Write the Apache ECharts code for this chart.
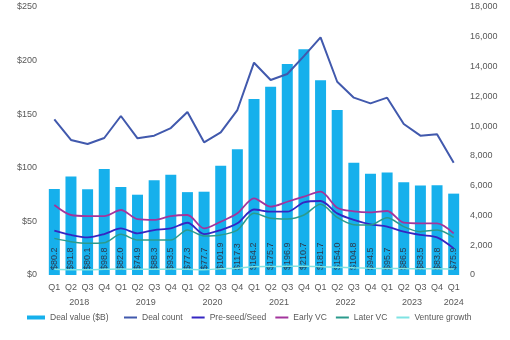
<!DOCTYPE html>
<html>
<head>
<meta charset="utf-8">
<script src="https://cdn.jsdelivr.net/npm/echarts@6/dist/echarts.min.js"></script>
<style>
html,body{margin:0;padding:0;background:#fff;}
#chart{width:510px;height:340px;}
</style>
</head>
<body>
<div id="chart"></div>
<script>
const quarters = ['Q1','Q2','Q3','Q4','Q1','Q2','Q3','Q4','Q1','Q2','Q3','Q4','Q1','Q2','Q3','Q4','Q1','Q2','Q3','Q4','Q1','Q2','Q3','Q4','Q1'];
const quarterYears = ['2018','2018','2018','2018','2019','2019','2019','2019','2020','2020','2020','2020','2021','2021','2021','2021','2022','2022','2022','2022','2023','2023','2023','2023','2024'];
const dealValue = [80.2,91.8,80.1,98.8,82.0,74.9,88.3,93.5,77.3,77.7,101.9,117.3,164.2,175.7,196.9,210.7,181.7,154.0,104.8,94.5,95.7,86.5,83.5,83.8,75.9];
const dealCount = [10450,9070,8800,9200,10680,9180,9360,9870,10950,8910,9580,11080,14260,13100,13500,14700,15960,12980,11910,11530,11910,10140,9360,9450,7540];
const preSeed = [2980,2690,2530,2750,3130,2800,3020,3130,3510,2750,3020,3470,4400,4250,4250,4880,4970,4140,3700,3400,3250,2910,2690,2530,1790];
const earlyVC = [4700,4030,3960,3960,4365,3750,3700,3960,4030,3130,3580,4140,5150,4590,4920,5260,5600,4520,4280,4210,4300,3515,3470,3470,2800];
const laterVC = [2460,2240,2130,2170,2730,2350,2350,2350,3020,2620,2690,3020,4140,3810,3760,4030,4750,3870,3380,3360,3850,3250,2910,3020,2530];
const ventureGrowth = [380,360,360,380,400,380,380,400,380,360,420,460,560,570,580,590,560,520,480,450,440,430,420,420,400];
const lineNames = ['Deal count', 'Pre-seed/Seed', 'Early VC', 'Later VC', 'Venture growth'];

// year label positions: centre of each year's quarters
const yearNames = [];
const yearPos = [];
quarterYears.forEach((y, i) => {
  let k = yearNames.indexOf(y);
  if (k < 0) { yearNames.push(y); yearPos.push([]); k = yearNames.length - 1; }
  yearPos[k].push(i);
});
const yearCentres = yearPos.map(a => (a[0] + a[a.length - 1]) / 2);

const txt = '#595959';
const font = 'Liberation Sans, Arial, sans-serif';
const chart = echarts.init(document.getElementById('chart'));
chart.setOption({
  animation: false,
  textStyle: { fontFamily: font },
  grid: { left: 46, right: 48, top: 7, bottom: 65, containLabel: false },
  legend: [
    {
      top: 313, left: 27, padding: 0, itemWidth: 18, itemHeight: 4, icon: 'rect',
      textStyle: { color: txt, fontSize: 8.5, fontFamily: font },
      data: ['Deal value ($B)']
    },
    {
      top: 313, left: 124, padding: 0, width: 390, itemGap: 9, itemWidth: 13, itemHeight: 2, icon: 'rect',
      textStyle: { color: txt, fontSize: 8.5, fontFamily: font },
      data: lineNames
    }
  ],
  xAxis: [
    {
      type: 'category', data: quarters,
      axisLine: { show: false }, axisTick: { show: false },
      axisLabel: { color: txt, fontSize: 9, margin: 8, interval: 0, fontFamily: font }
    },
    {
      type: 'value', min: -0.5, max: 24.5, position: 'bottom',
      axisLine: { show: false }, axisTick: { show: false }, splitLine: { show: false },
      axisLabel: {
        color: txt, fontSize: 9, margin: 23, fontFamily: font,
        customValues: yearCentres,
        formatter: v => { const k = yearCentres.indexOf(v); return k >= 0 ? yearNames[k] : ''; }
      }
    }
  ],
  yAxis: [
    {
      type: 'value', min: 0, max: 250, interval: 50,
      axisLine: { show: false }, axisTick: { show: false }, splitLine: { show: false },
      axisLabel: { color: txt, fontSize: 9, margin: 9, fontFamily: font, formatter: v => '$' + v }
    },
    {
      type: 'value', min: 0, max: 18000, interval: 2000,
      axisLine: { show: false }, axisTick: { show: false }, splitLine: { show: false },
      axisLabel: { color: txt, fontSize: 9, margin: 8, fontFamily: font,
        formatter: v => v.toLocaleString('en-US') }
    }
  ],
  series: [
    {
      name: 'Deal value ($B)', type: 'bar', data: dealValue, barWidth: '66%',
      itemStyle: { color: '#16b0ec' },
      label: {
        show: true, position: 'insideBottom', rotate: 90, align: 'left', verticalAlign: 'middle',
        distance: 5, color: '#2e3a4e', fontSize: 9, fontFamily: font,
        formatter: p => '$' + p.value.toFixed(1)
      }
    },
    { name: 'Deal count', type: 'line', yAxisIndex: 1, data: dealCount, symbol: 'none',
      lineStyle: { color: '#4159ad', width: 2 }, itemStyle: { color: '#4159ad' } },
    { name: 'Pre-seed/Seed', type: 'line', yAxisIndex: 1, data: preSeed, symbol: 'none', smooth: 0.3,
      lineStyle: { color: '#3526c2', width: 1.8 }, itemStyle: { color: '#3526c2' } },
    { name: 'Early VC', type: 'line', yAxisIndex: 1, data: earlyVC, symbol: 'none', smooth: 0.3,
      lineStyle: { color: '#a3349c', width: 1.8 }, itemStyle: { color: '#a3349c' } },
    { name: 'Later VC', type: 'line', yAxisIndex: 1, data: laterVC, symbol: 'none', smooth: 0.3,
      lineStyle: { color: '#2b9a8c', width: 1.5 }, itemStyle: { color: '#2b9a8c' } },
    { name: 'Venture growth', type: 'line', yAxisIndex: 1, data: ventureGrowth, symbol: 'none', smooth: 0.3,
      lineStyle: { color: '#7fe3e3', width: 1.5 }, itemStyle: { color: '#7fe3e3' } }
  ]
});
</script>
</body>
</html>
